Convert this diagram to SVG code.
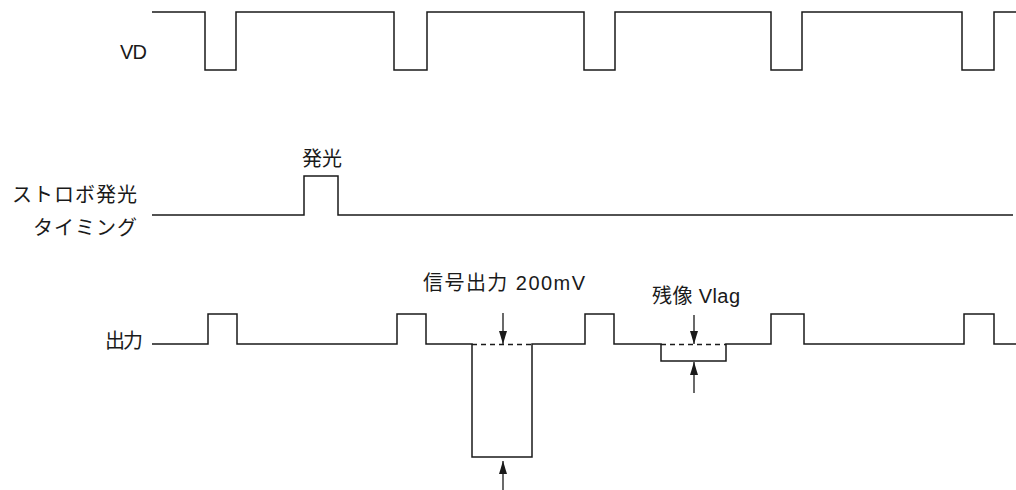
<svg xmlns="http://www.w3.org/2000/svg" width="1016" height="490" viewBox="0 0 1016 490">
<style>
.w{fill:none;stroke:#1a1a1a;stroke-width:1.5;stroke-linejoin:miter}
.d{fill:none;stroke:#1a1a1a;stroke-width:1.3;stroke-dasharray:5 4}
.a{fill:none;stroke:#1a1a1a;stroke-width:1.3}
text{font-family:"Liberation Sans","Noto Sans CJK JP",sans-serif;font-size:20px;fill:#1a1a1a}
</style>
<defs>
<marker id="ah" markerUnits="userSpaceOnUse" markerWidth="13" markerHeight="8" refX="13" refY="4" orient="auto">
<path d="M0,0 L13,4 L0,8 z" fill="#1a1a1a"/>
</marker>
</defs>
<rect width="1016" height="490" fill="#fff"/>
<g id="vd">
<text x="120" y="59" textLength="27">VD</text>
<path class="w" d="M152,12 H205 V70 H236 V12 H394 V70 H427 V12 H584 V70 H615 V12 H771 V70 H802 V12 H962 V70 H994 V12 H1016"/>
</g>
<g id="strobe">
<text x="302" y="166" textLength="40">発光</text>
<text x="12" y="202" textLength="125">ストロボ発光</text>
<text x="33" y="235" textLength="104">タイミング</text>
<path class="w" d="M152,215 H304 V176 H338 V215 H1013"/>
</g>
<g id="output">
<text x="105" y="348" textLength="38">出力</text>
<path class="w" d="M152,344 H208 V314 H237 V344 H397 V314 H426 V344 H472 V457 H532 V344 H585 V314 H614 V344 H661 V361 H726 V344 H771 V314 H804 V344 H964 V314 H994 V344 H1016"/>
<path class="d" d="M472,344.5 H532 M661,344.5 H726"/>
</g>
<g id="signal-label">
<text x="423" y="290" textLength="162">信号出力 200mV</text>
</g>
<g id="lag-label">
<text x="652" y="303" textLength="88">残像 Vlag</text>
</g>
<g id="connectors">
<line class="a" x1="503" y1="313" x2="503" y2="344" marker-end="url(#ah)"/>
<line class="a" x1="503" y1="490" x2="503" y2="461" marker-end="url(#ah)"/>
<line class="a" x1="694" y1="315" x2="694" y2="344" marker-end="url(#ah)"/>
<line class="a" x1="694" y1="393" x2="694" y2="362" marker-end="url(#ah)"/>
</g>
</svg>
